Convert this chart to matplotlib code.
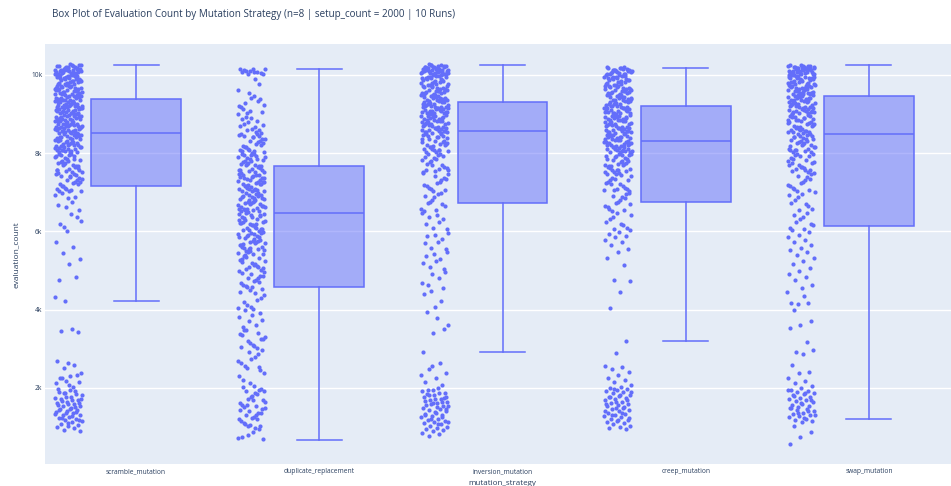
import numpy as np
import matplotlib
matplotlib.use("Agg")
import matplotlib.pyplot as plt

plt.rcParams['font.family'] = ['Open Sans', 'DejaVu Sans']

strategies = ['scramble_mutation', 'duplicate_replacement', 'inversion_mutation',
              'creep_mutation', 'swap_mutation']

# box summaries per strategy
q1 = [7171, 4573, 6720, 6737, 6140]
med = [8510, 6481, 8569, 8313, 8475]
q3 = [9379, 7657, 9302, 9190, 9455]
whislo = [4231, 671, 2928, 3193, 1199]
whishi = [10248, 10153, 10248, 10171, 10239]

# evaluation counts of every run, per strategy
scramble = [
    10012, 10245, 10130, 10067, 10188, 10221, 10034, 10156, 10098, 10270, 10005, 10142, 10203, 10077, 10119, 10051, 10236, 10164,
    10023, 10189, 10110, 10256, 10041, 10087, 10175, 10132, 10018, 10214, 10062, 10150, 10099, 10229, 10046, 10181, 10125,
    9512, 9870, 9633, 9955, 9721, 9588, 9904, 9667, 9802, 9541, 9979, 9746, 9615, 9838, 9692, 9527, 9921, 9774, 9650, 9883,
    9566, 9997, 9709, 9815, 9603, 9942, 9758, 9531, 9860, 9684, 9791, 9577, 9936, 9641, 9829, 9502, 9897, 9735, 9622, 9968,
    9553, 9851, 9700, 9914, 9594, 9782, 9660, 9988, 9547, 9843, 9716, 9625, 9902, 9768, 9519,
    9034, 9412, 9187, 9298, 9076, 9455, 9231, 9143, 9367, 9012, 9489, 9265, 9108, 9341, 9056, 9422, 9199, 9310, 9087, 9476,
    9154, 9246, 9393, 9021, 9438, 9172, 9285, 9063, 9357, 9219, 9128, 9401, 9045, 9330, 9271, 9165, 9497, 9093, 9376, 9208,
    9142, 9448, 9029, 9315, 9254, 9181, 9409, 9071, 9362, 9117, 9463, 9238, 9004, 9349, 9196,
    8523, 8912, 8687, 8798, 8576, 8955, 8731, 8643, 8867, 8512, 8989, 8765, 8608, 8841, 8556, 8922, 8699, 8810, 8587, 8976,
    8654, 8746, 8893, 8521, 8938, 8672, 8785, 8563, 8857, 8719, 8628, 8901, 8545, 8830, 8771, 8665, 8997, 8593, 8876, 8708,
    8642, 8948, 8529, 8815, 8754, 8681, 8909, 8571, 8862, 8617, 8963, 8738, 8504, 8849, 8696,
    8043, 8421, 8196, 8307, 8085, 8464, 8240, 8152, 8376, 8021, 8498, 8274, 8117, 8350, 8065, 8431, 8208, 8319, 8096, 8485,
    8163, 8255, 8402, 8030, 8447, 8181, 8294, 8072, 8366, 8228, 8137, 8410, 8054, 8339, 8280, 8174, 8476, 8102, 8385, 8217,
    8151, 8457, 8038, 8324, 8263,
    7532, 7914, 7688, 7801, 7574, 7957, 7733, 7645, 7869, 7516, 7982, 7760, 7611, 7846, 7559, 7928, 7702, 7815, 7590, 7971,
    7657, 7749, 7893, 7527, 7941, 7676, 7788, 7566, 7859, 7721,
    7043, 7412, 7198, 7305, 7081, 7467, 7236, 7150, 7372, 7019, 7488, 7264, 7112, 7347, 7060, 7425, 7211, 7321, 7094, 7453,
    7169, 7250, 7396, 7031, 7440,
    6612, 6925, 6750, 6980, 6548, 6843, 6671, 6890, 6105, 6270, 6433, 6190, 6355, 6021,
    5740, 5611, 5458, 5288, 5169, 4760, 4829, 4224, 4326, 3500, 3462, 3440,
    2650, 2690, 2580, 2520, 2390, 2310, 2260, 2340, 2190, 2120, 2020, 2250, 2140, 2080,
    1980, 1920, 1870, 1810, 1760, 1720, 1690, 1650, 1610, 1580, 1550, 1530, 1950, 1890, 1840, 1780, 1740, 1700, 1660, 1620,
    1590, 1570, 1510, 1860, 1730,
    1490, 1460, 1430, 1410, 1380, 1350, 1320, 1300, 1270, 1240, 1210, 1180, 1150, 1120, 1090, 1060, 1030, 1000, 970, 930,
    900, 1470, 1440, 1390, 1360, 1330, 1280, 1230, 1190, 1100,
]

duplicate = [
    10010, 10150, 10080, 10120, 10040, 10100, 10135, 10060, 10090, 10025, 10145, 10070,
    9770, 9540, 9610, 9880,
    9280, 9050, 9410, 9170, 9330, 9010, 9230, 9460, 9120, 9370, 9080, 9200,
    8540, 8930, 8710, 8620, 8860, 8580, 8790, 8990, 8660, 8750, 8510, 8900, 8690, 8820, 8600,
    8020, 8410, 8190, 8300, 8080, 8460, 8240, 8150, 8370, 8010, 8490, 8270, 8110, 8350, 8060, 8430, 8210, 8320, 8090, 8480,
    8160, 8250, 8400, 8040, 8440,
    7530, 7910, 7690, 7800, 7570, 7960, 7730, 7640, 7870, 7510, 7980, 7760, 7610, 7850, 7560, 7930, 7700, 7820, 7590, 7970,
    7660, 7750, 7890, 7520, 7940, 7680, 7790, 7570, 7860, 7720,
    7040, 7410, 7200, 7300, 7080, 7470, 7240, 7150, 7370, 7020, 7490, 7260, 7110, 7350, 7060, 7430, 7210, 7320, 7090, 7450,
    7170, 7250, 7390, 7030, 7440, 7180, 7280, 7070, 7360, 7220, 7130, 7400, 7050, 7340, 7270,
    6540, 6910, 6690, 6800, 6570, 6960, 6730, 6640, 6870, 6510, 6980, 6760, 6610, 6850, 6560, 6930, 6700, 6820, 6590, 6970,
    6660, 6750, 6890, 6520, 6940, 6680, 6790, 6550, 6860, 6720, 6630, 6900, 6580, 6830, 6770,
    6040, 6410, 6200, 6300, 6080, 6470, 6240, 6150, 6370, 6020, 6490, 6260, 6110, 6350, 6060, 6430, 6210, 6320, 6090, 6450,
    6170, 6250, 6390, 6030, 6440, 6180, 6280, 6070, 6360, 6220,
    5540, 5910, 5690, 5800, 5570, 5960, 5730, 5640, 5870, 5510, 5980, 5760, 5610, 5850, 5560, 5930, 5700, 5820, 5590, 5970,
    5660, 5750, 5890, 5520, 5940, 5680, 5790, 5580, 5860, 5720,
    5040, 5410, 5200, 5300, 5080, 5470, 5240, 5150, 5370, 5020, 5490, 5260, 5110, 5350, 5060, 5430, 5210, 5320, 5090, 5450,
    5170, 5390,
    4540, 4910, 4690, 4800, 4570, 4960, 4730, 4640, 4870, 4510, 4980, 4760, 4610, 4850, 4580, 4930, 4700, 4820,
    4050, 4420, 4190, 4310, 4080, 4460, 4240, 4130, 4370, 4010,
    3560, 3920, 3700, 3810, 3620, 3980, 3740, 3870,
    3040, 3410, 3200, 3300, 3080, 3470, 3240, 3150, 3370, 3020, 3490, 3260, 3110, 3350,
    2540, 2910, 2690, 2800, 2570, 2960, 2730, 2640, 2870, 2510,
    2380, 2050, 2210, 2450, 2130, 2300,
    1540, 1910, 1690, 1800, 1570, 1960, 1730, 1640, 1870, 1510, 1980, 1760, 1610, 1850, 1560, 1930, 1700, 2030,
    1040, 1410, 1200, 1300, 1080, 1470, 1240, 1150, 1370, 1020, 1490, 1260, 1110, 1350, 1060, 1430, 1210, 1320,
    690, 870, 760, 940, 810, 720, 980,
]

inversion = [
    10005, 10240, 10120, 10060, 10180, 10215, 10030, 10150, 10095, 10265, 10010, 10140, 10200, 10075, 10115, 10050, 10230, 10160,
    10020, 10185, 10105, 10250, 10040, 10085, 10170, 10130, 10015, 10210, 10065, 10155, 10090, 10225, 10045, 10190, 10125, 10255,
    10035, 10080, 10175, 10205,
    9515, 9865, 9630, 9950, 9720, 9585, 9905, 9665, 9800, 9540, 9975, 9745, 9610, 9835, 9690, 9525, 9920, 9770, 9650, 9880,
    9565, 9995, 9705, 9810, 9600, 9940, 9755, 9530, 9855, 9680, 9790, 9575, 9930, 9640, 9825, 9505, 9895, 9730, 9620, 9965,
    9550, 9850, 9700, 9910, 9590,
    9030, 9410, 9185, 9295, 9075, 9450, 9230, 9140, 9365, 9010, 9485, 9260, 9105, 9340, 9055, 9420, 9195, 9310, 9085, 9470,
    9150, 9245, 9390, 9020, 9435, 9170, 9280, 9060, 9355, 9215, 9125, 9400, 9045, 9330, 9270, 9165, 9495, 9090, 9375, 9205,
    9145, 9445, 9025, 9315, 9250, 9180, 9405, 9070, 9360, 9115,
    8525, 8910, 8685, 8795, 8575, 8955, 8730, 8640, 8865, 8510, 8985, 8760, 8605, 8840, 8555, 8920, 8695, 8810, 8585, 8975,
    8650, 8745, 8890, 8520, 8935, 8670, 8785, 8560, 8855, 8715, 8625, 8900, 8545, 8830, 8770, 8660, 8995, 8590, 8875, 8705,
    8645, 8945, 8530, 8815, 8750,
    8040, 8420, 8195, 8305, 8085, 8460, 8240, 8150, 8375, 8020, 8495, 8270, 8115, 8350, 8065, 8430, 8205, 8320, 8095, 8480,
    8160, 8255, 8400, 8030, 8445, 8180, 8290, 8070, 8365, 8225,
    7535, 7910, 7690, 7800, 7575, 7955, 7730, 7645, 7870, 7515, 7980, 7760, 7610, 7845, 7560, 7925, 7700, 7815, 7590, 7970,
    7045, 7410, 7195, 7305, 7080, 7465, 7235, 7150, 7370, 7020, 7490, 7265, 7110, 7345,
    6540, 6910, 6690, 6800, 6575, 6955, 6730, 6645, 6870, 6515, 6980, 6760,
    6050, 6420, 6190, 6310, 6085, 6465, 6240, 6370,
    5540, 5905, 5690, 5800, 5575, 5950, 5730, 5870,
    5045, 5410, 5195, 5300, 5080, 5460, 5235, 5370,
    4560, 4905, 4690, 4810, 4620, 4960, 4060, 4390, 4210, 4480,
    3620, 3790, 3950, 3500, 3410, 2930,
    2650, 2490, 2380, 2260, 2150, 2080, 2560, 2320,
    1990, 1940, 1880, 1830, 1780, 1730, 1690, 1650, 1610, 1570, 1530, 1960, 1910, 1860, 1810, 1760, 1710, 1670, 1630, 1590,
    1550, 1510, 1850, 1740, 1620,
    1490, 1460, 1430, 1400, 1370, 1340, 1310, 1280, 1250, 1220, 1190, 1160, 1130, 1100, 1070, 1040, 1010, 980, 950, 920,
    890, 860, 830, 780, 1450, 1380, 1320, 1260, 1200, 1140, 1080,
]

creep = [
    10010, 10190, 10120, 10060, 10170, 10030, 10150, 10095, 10005, 10140, 10075, 10110, 10050, 10180, 10020, 10130, 10085, 10160,
    10040, 10105, 10065, 10185, 10015, 10125, 10090,
    9518, 9862, 9634, 9952, 9722, 9588, 9908, 9662, 9804, 9542, 9972, 9742, 9612, 9832, 9694, 9522, 9924, 9772, 9652, 9884,
    9562, 9992, 9708, 9812, 9604, 9944, 9752, 9534, 9858, 9684, 9794, 9572, 9934, 9644, 9822, 9508, 9892, 9734, 9624, 9962,
    9552, 9854, 9702, 9914, 9594,
    9032, 9408, 9188, 9292, 9072, 9452, 9232, 9138, 9362, 9012, 9482, 9262, 9102, 9342, 9052, 9422, 9198, 9312, 9082, 9472,
    9152, 9242, 9392, 9022, 9432, 9172, 9282, 9062, 9352, 9212, 9122, 9402, 9042, 9332, 9272, 9162, 9492, 9092, 9372, 9208,
    9142, 9442, 9028, 9318, 9252,
    8528, 8908, 8688, 8792, 8572, 8952, 8732, 8638, 8862, 8512, 8982, 8762, 8602, 8842, 8552, 8922, 8698, 8812, 8582, 8972,
    8652, 8742, 8892, 8522, 8932, 8672, 8782, 8562, 8852, 8712, 8622, 8902, 8542, 8832, 8772, 8662, 8992, 8592, 8872, 8708,
    8642, 8942, 8532, 8818, 8752,
    8042, 8418, 8198, 8302, 8082, 8462, 8242, 8148, 8372, 8022, 8492, 8272, 8112, 8352, 8062, 8432, 8208, 8322, 8092, 8482,
    8162, 8252, 8402, 8032, 8442, 8182, 8292, 8072, 8362, 8222, 8132, 8412, 8052, 8342, 8282, 8172, 8472, 8102, 8382, 8218,
    8152, 8452, 8038, 8328, 8262,
    7538, 7912, 7692, 7802, 7578, 7958, 7732, 7648, 7872, 7518, 7982, 7762, 7612, 7848, 7562, 7928, 7702, 7818, 7592, 7972,
    7658, 7752, 7892, 7528, 7942, 7678, 7788, 7568, 7858, 7722,
    7048, 7412, 7198, 7302, 7082, 7462, 7238, 7152, 7372, 7022, 7488, 7268, 7112, 7348, 7062, 7428, 7212, 7322, 7092, 7452,
    6542, 6912, 6692, 6802, 6578, 6958, 6732, 6648, 6872, 6518, 6982, 6762, 6612, 6848,
    6052, 6418, 6192, 6312, 6088, 6462, 6242, 6152, 6372, 6022,
    5980, 5930, 5890, 5850, 5780, 5720, 5640, 5560, 5480, 5320, 5150,
    4760, 4730, 4450, 4040, 3200, 2900,
    2550, 2540, 2480, 2420, 2330, 2260, 2200, 2150, 2080, 2030,
    2000, 1980, 1950, 1920, 1890, 1860, 1830, 1800, 1770, 1740, 1710, 1680, 1650, 1620, 1590, 1560, 1530, 1510, 1970, 1900,
    1820, 1760, 1700, 1640, 1580,
    1490, 1460, 1430, 1400, 1370, 1340, 1310, 1280, 1250, 1220, 1190, 1160, 1130, 1100, 1070, 1040, 1010, 980, 950, 1480,
    1420, 1360, 1300, 1240, 1180,
]

swap = [
    10008, 10238, 10122, 10064, 10182, 10214, 10032, 10152, 10094, 10004, 10144, 10202, 10074, 10114, 10054, 10228, 10162, 10024,
    10188, 10104, 10232, 10044, 10084, 10172, 10134, 10014, 10208, 10068, 10158, 10092, 10222, 10048, 10194, 10128, 10240, 10038,
    10082, 10178, 10198, 10118,
    9516, 9868, 9632, 9954, 9724, 9586, 9906, 9664, 9806, 9544, 9974, 9744, 9614, 9836, 9696, 9524, 9926, 9774, 9654, 9886,
    9564, 9994, 9706, 9814, 9606, 9946, 9756, 9536, 9856, 9686, 9796, 9574, 9936, 9646, 9826, 9506, 9896, 9736, 9626, 9966,
    9556, 9846, 9704, 9916, 9596, 9784, 9666, 9984, 9546, 9866, 9716, 9628, 9904, 9764, 9514,
    9036, 9406, 9186, 9296, 9076, 9456, 9236, 9136, 9366, 9016, 9486, 9266, 9106, 9346, 9056, 9426, 9196, 9316, 9086, 9476,
    9156, 9246, 9396, 9026, 9436, 9176, 9286, 9066, 9356, 9216, 9126, 9416, 9046, 9336, 9276, 9166, 9496, 9096, 9376, 9206,
    9146, 9446, 9006, 9326, 9256,
    8526, 8906, 8686, 8796, 8576, 8956, 8736, 8636, 8866, 8516, 8986, 8766, 8606, 8846, 8556, 8926, 8696, 8816, 8586, 8976,
    8656, 8746, 8896, 8526, 8936, 8676, 8786, 8566, 8856, 8716, 8626, 8916, 8546, 8836, 8776,
    8046, 8416, 8196, 8306, 8086, 8466, 8246, 8146, 8376, 8026, 8496, 8276, 8116, 8356, 8066, 8436, 8206, 8326, 8096, 8486,
    8166, 8256, 8406, 8036, 8446, 8186, 8296, 8076, 8366, 8226,
    7536, 7916, 7696, 7806, 7576, 7956, 7736, 7646, 7876, 7516, 7986, 7766, 7616, 7846, 7566, 7926, 7706, 7816, 7596, 7976,
    7656, 7756,
    7046, 7416, 7196, 7306, 7086, 7466, 7236, 7156, 7376, 7026, 7486, 7266, 7116, 7346,
    6546, 6916, 6696, 6806, 6576, 6956, 6736, 6646, 6876, 6996,
    6056, 6416, 6196, 6306, 6086, 6466, 6246, 6156, 6376, 6026,
    5980, 5910, 5860, 5790, 5720, 5650, 5580, 5520, 5460, 5390, 5330, 5250, 5160, 5060,
    4980, 4910, 4830, 4750, 4640, 4560, 4170, 4180, 4150, 4440, 4360,
    3980, 3700, 3600, 3540, 3180, 2930, 2960,
    2870, 2580, 2420, 2390, 2260, 2190, 2120, 2040,
    1990, 1960, 1930, 1900, 1870, 1840, 1810, 1780, 1750, 1720, 1690, 1660, 1630, 1600, 1570, 1540, 1510, 1950, 1880, 1800,
    1700, 1620,
    1490, 1460, 1430, 1400, 1370, 1340, 1310, 1280, 1250, 1220, 1190, 1160, 1130, 1480, 1420, 1360, 1300, 1240,
    1020, 870, 760, 580,
]

runs = [scramble, duplicate, inversion, creep, swap]

blue = '#636efa'
bg = '#e5ecf6'
txt = '#2a3f5f'

fig = plt.figure(figsize=(9.51, 4.86), dpi=100)
ax = fig.add_axes([44.5 / 951, 22 / 486, 916 / 951, 420 / 486])
ax.set_facecolor(bg)

stats = []
for i in range(len(strategies)):
    stats.append(dict(q1=q1[i], med=med[i], q3=q3[i], whislo=whislo[i], whishi=whishi[i], fliers=[]))

pos = np.arange(len(strategies))
bp = ax.bxp(stats, positions=pos, widths=0.49, capwidths=0.245, patch_artist=True, showfliers=False,
            boxprops=dict(facecolor=(99 / 255, 110 / 255, 250 / 255, 0.5), edgecolor=blue, linewidth=1.1),
            whiskerprops=dict(color=blue, linewidth=1.1),
            capprops=dict(color=blue, linewidth=1.1),
            medianprops=dict(color=blue, linewidth=1.1), zorder=3)

# points sit to the left of each box, spread sideways with a golden-ratio step
phi = 0.6180339887
for i, vals in enumerate(runs):
    k = np.arange(len(vals))
    jit = ((k * phi + 0.37 * i) % 1.0) * 2 - 1
    xs = i - 0.37 + jit * 0.075
    ax.scatter(xs, vals, s=9, color=blue, linewidths=0, zorder=4)

ax.set_xlim(-0.5, 4.5)
ax.set_ylim(58, 10785)
ax.set_yticks([2000, 4000, 6000, 8000, 10000])
ax.set_yticklabels(['2k', '4k', '6k', '8k', '10k'])
ax.set_xticks(pos)
ax.set_xticklabels(strategies)
ax.grid(axis='y', color='white', linewidth=1)
ax.set_axisbelow(True)
for s in ax.spines.values():
    s.set_visible(False)
ax.tick_params(axis='both', length=0, colors=txt, labelsize=4.8)
ax.tick_params(axis='y', pad=1.5)
ax.tick_params(axis='x', pad=3)

fig.text(52 / 951, 1 - 15 / 486, 'Box Plot of Evaluation Count by Mutation Strategy (n=8 | setup_count = 2000 | 10 Runs)',
         ha='left', va='center', fontsize=7.1, color=txt)
fig.text(16 / 951, 1 - 255 / 486, 'evaluation_count', rotation=90, ha='center', va='center', fontsize=6.0, color=txt)
fig.text(502.5 / 951, 1 - 483 / 486, 'mutation_strategy', ha='center', va='center', fontsize=5.8, color=txt)

fig.savefig('out.png', dpi=100)
